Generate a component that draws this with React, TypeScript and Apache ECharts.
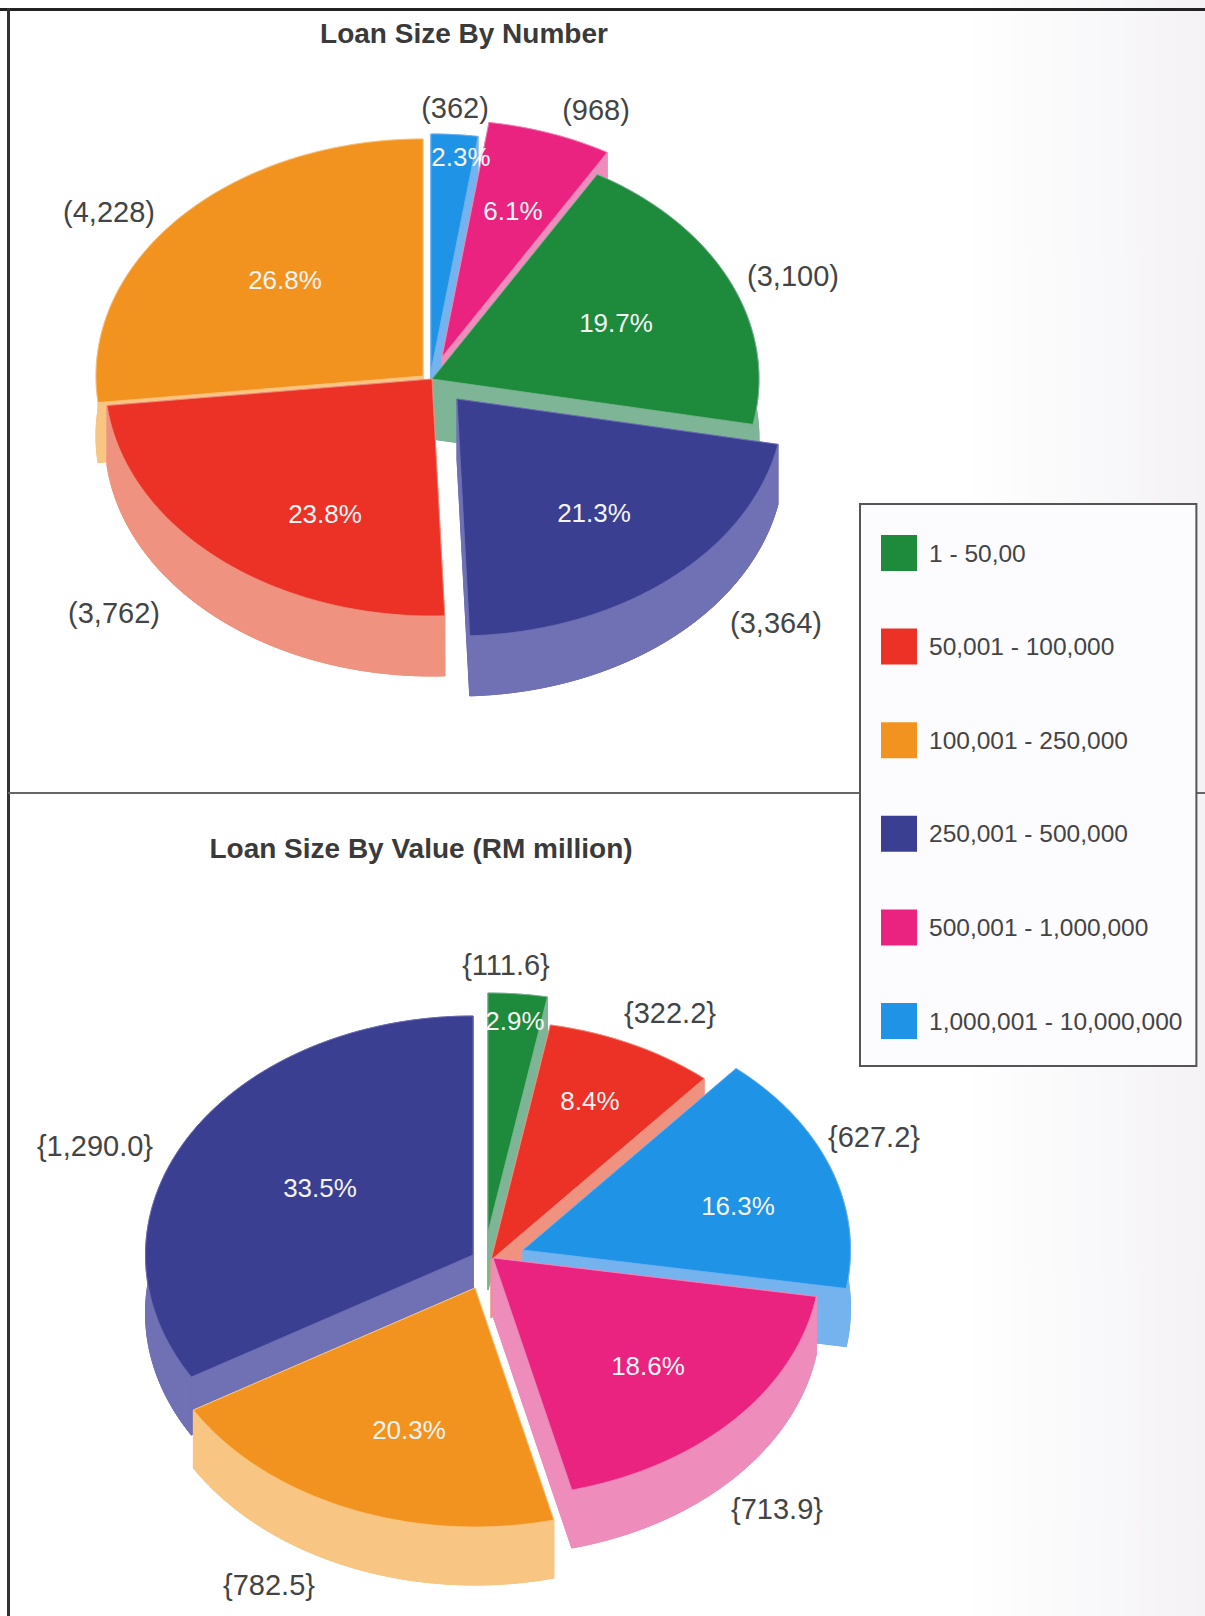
import React, { useEffect, useRef } from "react";
import * as echarts from "echarts";

const categories = ["1 - 50,00", "50,001 - 100,000", "100,001 - 250,000", "250,001 - 500,000", "500,001 - 1,000,000", "1,000,001 - 10,000,000"];
const colors = ["#1e8a3c", "#ec3127", "#f3931f", "#3a3f92", "#ea2280", "#1f93e6"];
const paleColors = ["#7db596", "#ef9380", "#f9c583", "#7070b5", "#ee8cbb", "#74b3ee"];

// Slices run clockwise from 12 o'clock, smallest first. Index into categories.
const numberOrder = [5, 4, 0, 3, 1, 2];
const numberValues = [362, 968, 3100, 3364, 3762, 4228];
const numberPercents = ["2.3%", "6.1%", "19.7%", "21.3%", "23.8%", "26.8%"];
const numberTexts = ["(362)", "(968)", "(3,100)", "(3,364)", "(3,762)", "(4,228)"];

const valueOrder = [0, 1, 5, 4, 2, 3];
const valueValues = [111.6, 322.2, 627.2, 713.9, 782.5, 1290.0];
const valuePercents = ["2.9%", "8.4%", "16.3%", "18.6%", "20.3%", "33.5%"];
const valueTexts = ["{111.6}", "{322.2}", "{627.2}", "{713.9}", "{782.5}", "{1,290.0}"];

const FONT = '"Liberation Sans", Arial, sans-serif';

const pies = [
  {
    order: numberOrder, values: numberValues, percents: numberPercents, texts: numberTexts,
    cx: 432, cy: 379, rx: 327, ry: 237, depth: 60,
    explode: [[-1, -8], [10, -22], [0, 0], [25, 20], [0, 0], [-9, -3]],
    paint: [0, 1, 5, 2, 4, 3],
    percentAt: [[461, 157], [513, 211], [616, 323], [594, 513], [325, 514], [285, 280]],
    textAt: [[455, 108], [596, 110], [793, 276], [776, 623], [114, 613], [109, 212]],
  },
  {
    order: valueOrder, values: valueValues, percents: valuePercents, texts: valueTexts,
    cx: 492, cy: 1260, rx: 327.5, ry: 239, depth: 58,
    explode: [[-4, -28], [-1, 0], [31, -10], [1, -2], [-17, 28], [-19, -5]],
    paint: [0, 1, 2, 5, 3, 4],
    percentAt: [[515, 1021], [590, 1101], [738, 1206], [648, 1366], [409, 1430], [320, 1188]],
    textAt: [[506, 965], [670, 1013], [874, 1137], [777, 1509], [269, 1585], [95, 1146]],
  },
];

type Pt = [number, number];

function slicePoints(start: number, end: number, rx: number, ry: number, cx: number, cy: number): Pt[] {
  const steps = Math.max(2, Math.ceil(((end - start) * 180) / Math.PI));
  const pts: Pt[] = [];
  for (let i = 0; i <= steps; i++) {
    const a = start + ((end - start) * i) / steps;
    pts.push([cx + rx * Math.sin(a), cy - ry * Math.cos(a)]);
  }
  return pts;
}

function makeRenderItem(pieIndex: number, slice: number) {
  const pie = pies[pieIndex];
  const total = pie.values.reduce((s, v) => s + v, 0);
  const before = pie.values.slice(0, slice).reduce((s, v) => s + v, 0);
  return (_params: any, api: any) => {
    const value = api.value(0);
    const start = (before / total) * 2 * Math.PI;
    const end = ((before + value) / total) * 2 * Math.PI;
    const cx = pie.cx + pie.explode[slice][0];
    const cy = pie.cy + pie.explode[slice][1];
    const cat = pie.order[slice];
    const arc = slicePoints(start, end, pie.rx, pie.ry, cx, cy);
    const low = (p: Pt): Pt => [p[0], p[1] + pie.depth];
    const apex: Pt = [cx, cy];
    const paleStyle = { fill: paleColors[cat], stroke: paleColors[cat], lineWidth: 1 };
    const quads: Pt[][] = [
      [apex, ...arc].map(low),
      [...arc, ...arc.slice().reverse().map(low)],
      [apex, arc[0], low(arc[0]), low(apex)],
      [apex, arc[arc.length - 1], low(arc[arc.length - 1]), low(apex)],
    ];
    return {
      type: "group",
      children: [
        ...quads.map((points) => ({ type: "polygon", shape: { points }, style: paleStyle, silent: true })),
        {
          type: "polygon",
          shape: { points: [apex, ...arc] },
          style: { fill: colors[cat], stroke: paleColors[cat], lineWidth: 0.8 },
          silent: true,
        },
      ],
    };
  };
}

function makeLabelItem(pieIndex: number) {
  const pie = pies[pieIndex];
  return (params: any) => {
    const i = params.dataIndex;
    return {
      type: "group",
      children: [
        {
          type: "text",
          silent: true,
          style: {
            x: pie.percentAt[i][0], y: pie.percentAt[i][1], text: pie.percents[i],
            fill: "#f4f4f4", font: `26px ${FONT}`, align: "center", verticalAlign: "middle",
          },
        },
        {
          type: "text",
          silent: true,
          style: {
            x: pie.textAt[i][0], y: pie.textAt[i][1], text: pie.texts[i],
            fill: "#444444", font: `29px ${FONT}`, align: "center", verticalAlign: "middle",
          },
        },
      ],
    };
  };
}

function buildSeries() {
  const series: any[] = [];
  pies.forEach((pie, p) => {
    pie.values.forEach((v, s) => {
      series.push({
        type: "custom",
        name: categories[pie.order[s]],
        coordinateSystem: "none",
        clip: false,
        silent: true,
        z: 2 + pie.paint.indexOf(s),
        itemStyle: { color: colors[pie.order[s]] },
        data: [[v]],
        renderItem: makeRenderItem(p, s),
      });
    });
    series.push({
      type: "custom",
      name: "labels",
      coordinateSystem: "none",
      silent: true,
      z: 20,
      data: pie.values.map((v) => [v]),
      renderItem: makeLabelItem(p),
    });
  });
  return series;
}

export default function App() {
  const ref = useRef<HTMLDivElement>(null);
  useEffect(() => {
    if (!ref.current) return;
    const chart = echarts.init(ref.current, undefined, { renderer: "svg" });
    chart.setOption({
      animation: false,
      backgroundColor: {
        type: "linear", x: 0, y: 0, x2: 1, y2: 0,
        colorStops: [
          { offset: 0, color: "#ffffff" },
          { offset: 0.8, color: "#ffffff" },
          { offset: 1, color: "#f4f2f5" },
        ],
      },
      title: [
        {
          text: "Loan Size By Number", left: 459, top: 14, textAlign: "center",
          textStyle: { fontFamily: FONT, fontSize: 28, fontWeight: "bold", color: "#3a3a3a" },
        },
        {
          text: "Loan Size By Value (RM million)", left: 416, top: 829, textAlign: "center",
          textStyle: { fontFamily: FONT, fontSize: 28, fontWeight: "bold", color: "#3a3a3a" },
        },
      ],
      legend: {
        data: categories, orient: "vertical", left: 860, top: 504, icon: "rect",
        itemWidth: 36, itemHeight: 36, itemGap: 57.6, selectedMode: false,
        padding: [31, 14, 27, 21], borderColor: "#555555", borderWidth: 2, backgroundColor: "#fcfbfd",
        textStyle: { fontFamily: FONT, fontSize: 24.5, color: "#444444", padding: [0, 0, 0, 7] },
      },
      graphic: [
        { type: "rect", silent: true, z: -1, shape: { x: 0, y: 8, width: 1205, height: 3 }, style: { fill: "#222222" } },
        { type: "rect", silent: true, z: -1, shape: { x: 7, y: 8, width: 3, height: 1608 }, style: { fill: "#333333" } },
        { type: "rect", silent: true, z: -1, shape: { x: 8, y: 792, width: 1197, height: 2 }, style: { fill: "#666666" } },
      ],
      series: buildSeries(),
    });
    return () => chart.dispose();
  }, []);
  return <div ref={ref} style={{ position: "absolute", left: 0, top: 0, width: 1205, height: 1616 }} />;
}
